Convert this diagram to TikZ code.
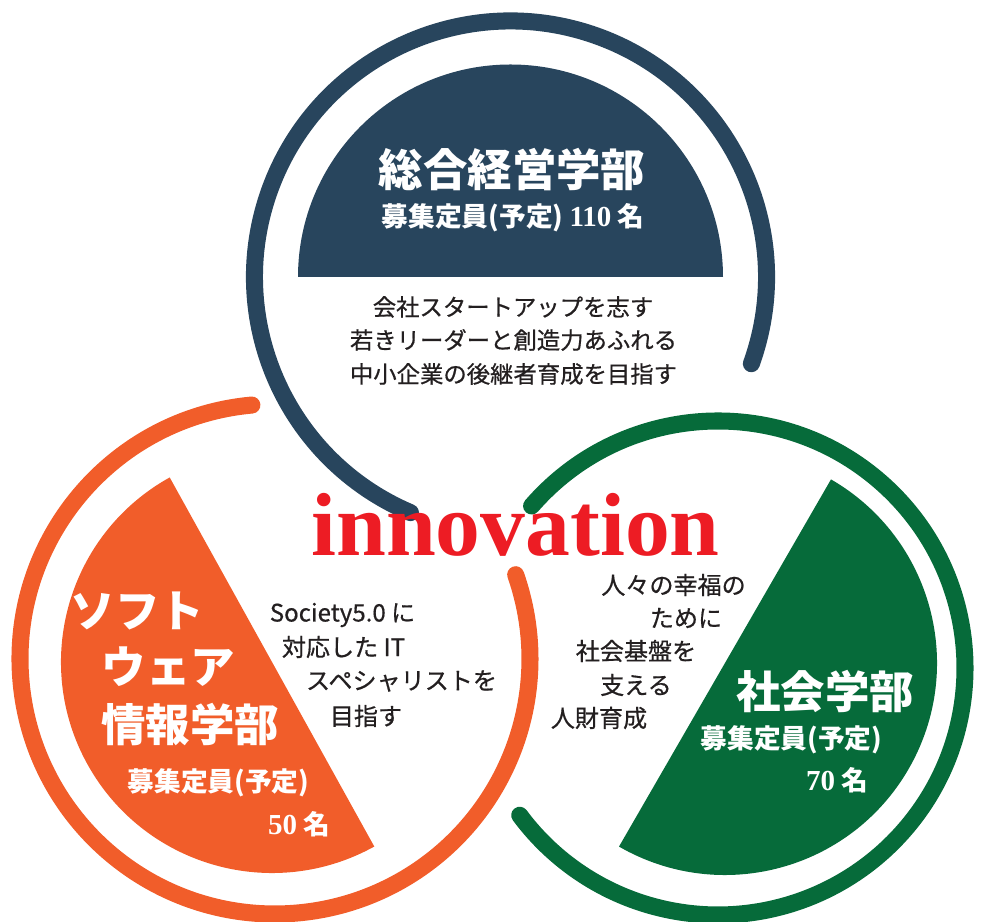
\documentclass[tikz,border=0pt]{standalone}
\usepackage{fontspec}
\setmainfont{Liberation Serif}
\newfontfamily\jpfont{Noto Sans CJK JP}
\newfontfamily\jpblurb{Noto Sans CJK JP}[FakeBold=0.6]
\definecolor{navy}{HTML}{28455D}
\definecolor{sunset}{HTML}{F15D2A}
\definecolor{forest}{HTML}{066B3A}
\definecolor{scarlet}{HTML}{ED1C24}
\definecolor{ink}{HTML}{231F20}
\tikzset{
  ring/.style={line width=9.7pt, line cap=round},
  head/.style={text=white, inner sep=0pt, font=\jpfont\bfseries\fontsize{25.3}{30}\selectfont},
  quota/.style={text=white, inner sep=0pt, font=\jpfont\bfseries\fontsize{15.2}{18}\selectfont},
  blurb/.style={text=ink, inner sep=0pt, font=\jpblurb\fontsize{#1}{16}\selectfont},
  blurb/.default=13.7
}
\newcommand{\seats}[1]{{\rmfamily\bfseries\fontsize{16.5}{18}\selectfont #1}}
\begin{document}
\begin{tikzpicture}[x=0.02cm,y=0.02cm]
\useasboundingbox (0,0) rectangle (985,922);
\fill[navy] (723,645) arc[start angle=0, end angle=180, radius=212.5] -- cycle;
\fill[sunset] (272,260) ++(119:211) arc[start angle=119, end angle=299, radius=211] -- cycle;
\fill[forest] (725,259) ++(60:212) arc[start angle=60, end angle=-120, radius=212] -- cycle;
\draw[ring, navy] (510.5,645) ++(-19.8:256) arc[start angle=-19.8, end angle=247, radius=256];
\draw[ring, sunset] (275,263) ++(95.2:255) arc[start angle=95.2, end angle=379.3, radius=255];
\draw[ring, forest] (718,254) ++(139:247) arc[start angle=139, end angle=-143.4, radius=247];
\draw (512,752) node[head] (mgmt) {総合経営学部};
\draw (513,704) node[quota] (mgmtQuota) {募集定員(予定) \seats{110} 名};
\draw (513,615) node[blurb=13.3] (mgmtA) {会社スタートアップを志す};
\draw (513.5,582) node[blurb=13.3] (mgmtB) {若きリーダーと創造力あふれる};
\draw (513.5,548) node[blurb=13.3] (mgmtC) {中小企業の後継者育成を目指す};
\draw (137.5,311) node[head] (softA) {ソフト};
\draw (168.5,255) node[head] (softB) {ウェア};
\draw (190,197) node[head] (softC) {情報学部};
\draw (218.5,139) node[quota] (softQuota) {募集定員(予定)};
\draw (299,98) node[quota] (softSeats) {\seats{50} 名};
\draw (342.5,307) node[blurb] (itA) {Society5.0 に};
\draw (343.5,275) node[blurb] (itB) {対応した IT};
\draw (401.5,241) node[blurb] (itC) {スペシャリストを};
\draw (366,206) node[blurb] (itD) {目指す};
\draw (825,230) node[head] (soc) {社会学部};
\draw (791.5,182) node[quota] (socQuota) {募集定員(予定)};
\draw (837,142) node[quota] (socSeats) {\seats{70} 名};
\draw (673.5,337) node[blurb] (socA) {人々の幸福の};
\draw (686,304) node[blurb] (socB) {ために};
\draw (636,271) node[blurb] (socC) {社会基盤を};
\draw (636,237) node[blurb] (socD) {支える};
\draw (599,204) node[blurb] (socE) {人財育成};
\draw (515.5,366) node[anchor=base, inner sep=0pt, text=scarlet, font=\bfseries\fontsize{51}{51}\selectfont] (innov) {innovation};
\end{tikzpicture}
\end{document}
